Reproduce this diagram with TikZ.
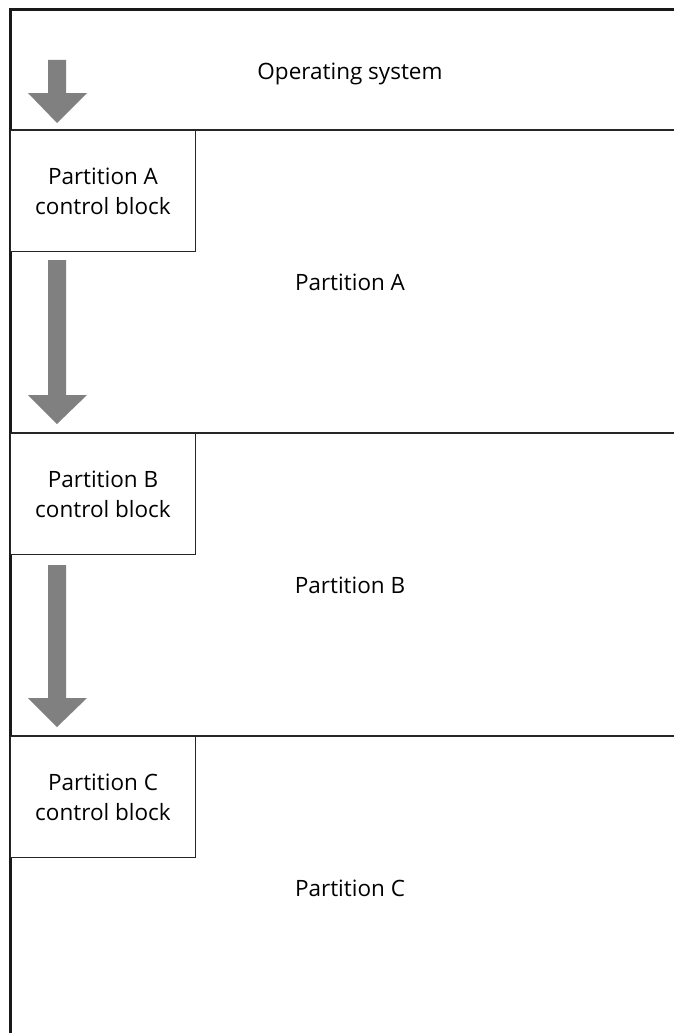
\documentclass[tikz,border=0pt]{standalone}
\usepackage{fontspec}
\setmainfont{Open Sans}
\begin{document}
\begin{tikzpicture}[x=1pt,y=-1pt,
  divider/.style={line width=1.3pt,draw=black!85},
  frame/.style={line width=3pt,draw=black!90},
  cblock/.style={draw=black!85,line width=1pt,fill=white,minimum width=185pt,minimum height=121pt,anchor=north west,inner sep=0pt,align=center,font=\fontsize{22.5}{30}\selectfont},
  label/.style={font=\fontsize{22.5}{30}\selectfont,inner sep=0pt},
  downarrow/.style={fill=black!50,draw=none}]
\useasboundingbox (0,0) rectangle (674,1033);
% partition dividers
\draw[divider] (10,130) -- (674,130);
\draw[divider] (10,433) -- (674,433);
\draw[divider] (10,736) -- (674,736);
% outer frame (top and left)
\draw[frame] (674,10) -- (10,10) -- (10,1033);
% control blocks
\node[cblock] (cbA) at (10,130) {Partition A\\control block};
\node[cblock] (cbB) at (10,433) {Partition B\\control block};
\node[cblock] (cbC) at (10,736) {Partition C\\control block};
% region labels
\node[label] (os) at (350,74) {Operating system};
\node[label] (pA) at (350,282) {Partition A};
\node[label] (pB) at (350,585) {Partition B};
\node[label] (pC) at (350,888) {Partition C};
% growth arrows
\fill[downarrow] (48,60) -- (66,60) -- (66,93) -- (87,93) -- (57,123) -- (28,93) -- (48,93) -- cycle;
\fill[downarrow] (48,260) -- (66,260) -- (66,395) -- (87,395) -- (57,424) -- (28,395) -- (48,395) -- cycle;
\fill[downarrow] (48,565) -- (66,565) -- (66,698) -- (87,698) -- (57,727) -- (28,698) -- (48,698) -- cycle;
\end{tikzpicture}
\end{document}
